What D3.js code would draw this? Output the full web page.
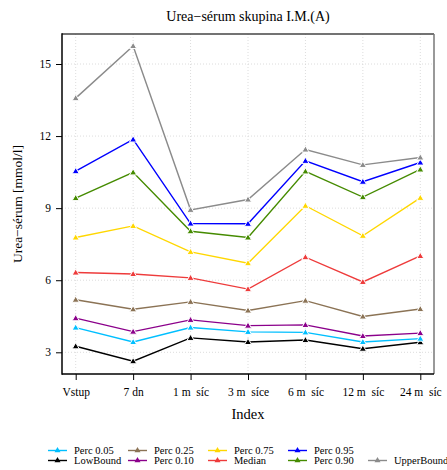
<!DOCTYPE html>
<html><head><meta charset="utf-8">
<script src="https://cdn.jsdelivr.net/npm/d3@7"></script>
<style>
body{margin:0;background:#fff;}
svg text{font-family:"Liberation Serif","Times New Roman",Times,"DejaVu Serif",serif !important;}
</style></head>
<body>
<svg id="c" width="447" height="470"></svg>
<script>
const categories = ["Vstup","7 dn","1 m  síc","3 m  síce","6 m  síc","12 m  síc","24 m  síc"];
const yTicks = [3,6,9,12,15];
const lowBound   = [3.25,2.63,3.60,3.43,3.51,3.15,3.42];
const perc05     = [4.03,3.43,4.03,3.85,3.83,3.43,3.57];
const perc10     = [4.42,3.86,4.35,4.11,4.14,3.68,3.80];
const perc25     = [5.19,4.79,5.10,4.74,5.15,4.49,4.80];
const median     = [6.32,6.26,6.10,5.63,6.96,5.93,7.01];
const perc75     = [7.78,8.26,7.18,6.71,9.10,7.85,9.43];
const perc90     = [9.42,10.49,8.04,7.78,10.53,9.46,10.61];
const perc95     = [10.54,11.86,8.36,8.35,10.97,10.10,10.90];
const upperBound = [13.58,15.75,8.93,9.36,11.44,10.80,11.11];

const series = [
  {name:"Perc 0.05", values:perc05, color:"#00bfff"},
  {name:"LowBound", values:lowBound, color:"#000000"},
  {name:"Perc 0.25", values:perc25, color:"#8b7355"},
  {name:"Perc 0.10", values:perc10, color:"#8b008b"},
  {name:"Perc 0.75", values:perc75, color:"#ffd700"},
  {name:"Median", values:median, color:"#ee3b3b"},
  {name:"Perc 0.95", values:perc95, color:"#0000ff"},
  {name:"Perc 0.90", values:perc90, color:"#458b00"},
  {name:"UpperBound", values:upperBound, color:"#8b8b8b"}
];
const drawOrder = ["LowBound","Perc 0.05","Perc 0.10","Perc 0.25","Median","Perc 0.75","Perc 0.90","Perc 0.95","UpperBound"];
const FONT = "Liberation Serif, Times New Roman, serif";

const svg = d3.select("#c");
const L=62, R=434, T=34, B=374;
const x = d3.scalePoint().domain(categories).range([75.7,420.3]);
const y = d3.scaleLinear().domain([3,15]).range([352.3,64]);

// grid
const g = svg.append("g");
g.selectAll(".gx").data(categories).enter().append("line")
  .attr("x1",d=>x(d)).attr("x2",d=>x(d)).attr("y1",T).attr("y2",B)
  .attr("stroke","#d3d3d3").attr("stroke-width",0.8).attr("stroke-dasharray","1,2");
g.selectAll(".gy").data(yTicks).enter().append("line")
  .attr("x1",L).attr("x2",R).attr("y1",d=>y(d)).attr("y2",d=>y(d))
  .attr("stroke","#d3d3d3").attr("stroke-width",0.8).attr("stroke-dasharray","1,2");

// lines
const line = d3.line().x((d,i)=>x(categories[i])).y(d=>y(d));
const tri = d3.symbol().type(d3.symbolTriangle).size(22);
drawOrder.forEach(n=>{
  const s = series.find(t=>t.name===n);
  svg.append("path").attr("d",line(s.values)).attr("fill","none")
    .attr("stroke",s.color).attr("stroke-width",1.4);
});
drawOrder.forEach(n=>{
  const s = series.find(t=>t.name===n);
  svg.selectAll(null).data(s.values).enter().append("path")
    .attr("d",tri).attr("transform",(d,i)=>`translate(${x(categories[i])},${y(d)+0.5})`)
    .attr("fill",s.color).attr("stroke","#fff").attr("stroke-width",1);
});

// frame
svg.append("line").attr("x1",L).attr("x2",R).attr("y1",T).attr("y2",T).attr("stroke","#444").attr("stroke-width",1.5);
svg.append("line").attr("x1",R).attr("x2",R).attr("y1",T).attr("y2",B).attr("stroke","#777").attr("stroke-width",1.5);
svg.append("line").attr("x1",L).attr("x2",L).attr("y1",T-0.75).attr("y2",B+0.75).attr("stroke","#000").attr("stroke-width",1.5);
svg.append("line").attr("x1",L).attr("x2",R).attr("y1",B).attr("y2",B).attr("stroke","#000").attr("stroke-width",1.5);

// axes
const xAxis = svg.append("g").attr("transform",`translate(0,${B})`)
  .call(d3.axisBottom(x).tickSize(6).tickPadding(8));
const yAxis = svg.append("g").attr("transform",`translate(${L},0)`)
  .call(d3.axisLeft(y).tickValues(yTicks).tickSize(6).tickPadding(5));
[xAxis,yAxis].forEach(a=>{
  a.attr("font-family",FONT);
  a.select(".domain").remove();
  a.selectAll("line").attr("stroke","#000").attr("stroke-width",1);
  a.selectAll("text").attr("font-family",FONT).attr("font-size",11.5).attr("fill","#000").style("white-space","pre");
});
xAxis.selectAll("text").attr("dy","0.71em");

// titles
svg.append("text").attr("x",248).attr("y",21).attr("text-anchor","middle").attr("font-family",FONT)
  .attr("font-size",14).text("Urea−sérum skupina I.M.(A)");
svg.append("text").attr("x",248).attr("y",419).attr("text-anchor","middle").attr("font-family",FONT)
  .attr("font-size",14.5).text("Index");
svg.append("text").attr("transform","translate(22,204) rotate(-90)").attr("text-anchor","middle").attr("font-family",FONT)
  .attr("font-size",13.5).text("Urea−sérum [mmol/l]");

// legend
const legPos = [[0,0],[0,1],[1,0],[1,1],[2,0],[2,1],[3,0],[3,1],[4,1]];
series.forEach((s,i)=>{
  const [c,r] = legPos[i];
  const lx = 48 + c*80, ly = 450.5 + r*10;
  svg.append("line").attr("x1",lx).attr("x2",lx+19).attr("y1",ly).attr("y2",ly)
    .attr("stroke",s.color).attr("stroke-width",1.4);
  svg.append("path").attr("d",d3.symbol().type(d3.symbolTriangle).size(16)())
    .attr("transform",`translate(${lx+9.5},${ly})`).attr("fill",s.color);
  svg.append("text").attr("x",lx+26).attr("y",ly+3.5).attr("font-family",FONT).attr("font-size",10.5).text(s.name);
});
</script>
</body></html>
